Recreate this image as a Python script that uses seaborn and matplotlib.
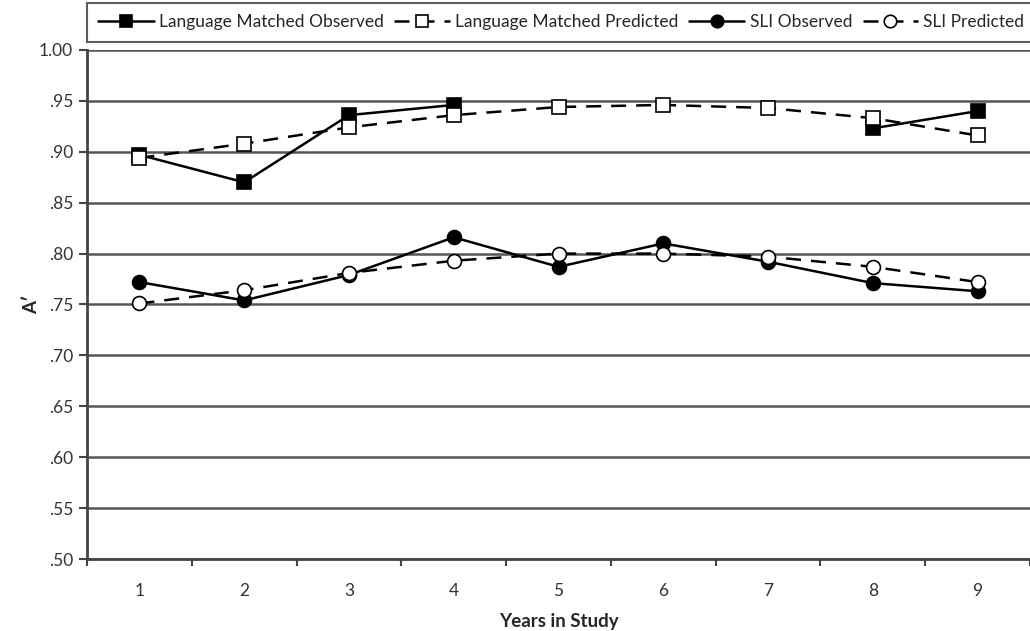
import pandas as pd
import numpy as np
import matplotlib
matplotlib.use("Agg")
import matplotlib.pyplot as plt
from matplotlib.lines import Line2D
import seaborn as sns

years = [1, 2, 3, 4, 5, 6, 7, 8, 9]
lm_observed = [0.897, 0.870, 0.936, 0.946, np.nan, np.nan, np.nan, 0.923, 0.940]
lm_predicted = [0.894, 0.908, 0.924, 0.936, 0.944, 0.946, 0.943, 0.933, 0.916]
sli_observed = [0.772, 0.754, 0.779, 0.816, 0.787, 0.810, 0.792, 0.771, 0.763]
sli_predicted = [0.751, 0.764, 0.781, 0.793, 0.800, 0.800, 0.797, 0.787, 0.772]
y_ticks = [0.50, 0.55, 0.60, 0.65, 0.70, 0.75, 0.80, 0.85, 0.90, 0.95, 1.00]
y_tick_labels = [".50", ".55", ".60", ".65", ".70", ".75", ".80", ".85", ".90", ".95", "1.00"]

sns.set_theme(style="white")
plt.rcParams['font.family'] = ['Lato', 'DejaVu Sans']

fig = plt.figure(figsize=(10.30, 6.31), dpi=100)
ax = fig.add_axes([0.0845, 0.1141, 0.9155, 0.8067])

series = [
    ("Language Matched Observed", lm_observed, "-", "s", "black"),
    ("Language Matched Predicted", lm_predicted, (0, (6, 4)), "s", "white"),
    ("SLI Observed", sli_observed, "-", "o", "black"),
    ("SLI Predicted", sli_predicted, (0, (6, 4)), "o", "white"),
]

for name, vals, ls, mk, fc in series:
    df = pd.DataFrame({"Year": years, "A": vals})
    # split into runs so that gaps in the data break the line
    df["run"] = df["A"].isna().cumsum()
    df = df.dropna()
    sns.lineplot(data=df, x="Year", y="A", units="run", estimator=None, ax=ax,
                 color="black", linestyle=ls, linewidth=1.8, marker=mk, markersize=10,
                 markerfacecolor=fc, markeredgecolor="black", markeredgewidth=1.2,
                 zorder=3, legend=False)

ax.set_xlim(0.5, 9.5)
ax.set_ylim(0.50, 1.00)
ax.set_yticks(y_ticks)
ax.set_yticklabels(y_tick_labels, fontsize=12.5, color="#333333")
ax.set_xticks(years)
ax.set_xticklabels([str(y) for y in years], fontsize=12.5, color="#333333")
ax.tick_params(axis="x", length=0, pad=17)
ax.tick_params(axis="y", left=True, length=6, width=1.5, color="#444444", pad=4)

# ticks at category boundaries
ax.set_xticks(np.arange(0.5, 9.6, 1.0), minor=True)
ax.tick_params(axis="x", which="minor", bottom=True, length=5, width=1.5, color="#444444")

ax.grid(axis="y", color="#555555", linewidth=1.8)
ax.set_axisbelow(True)
for s in ["top", "right"]:
    ax.spines[s].set_visible(False)
for s in ["left", "bottom"]:
    ax.spines[s].set_color("#444444")
    ax.spines[s].set_linewidth(2)

ax.set_xlabel("Years in Study", fontsize=13.5, fontweight="bold", labelpad=10)
ax.set_ylabel("A\u2032", fontsize=13.5, fontweight="bold")
ax.yaxis.set_label_coords(-0.05, 0.5)

handles = [Line2D([], [], color="black", linestyle=ls, linewidth=1.8, marker=mk, markersize=9,
                  markerfacecolor=fc, markeredgecolor="black", markeredgewidth=1.2)
           for _, _, ls, mk, fc in series]
labels = [s[0] for s in series]
leg = fig.legend(handles, labels, loc="upper left", bbox_to_anchor=(0.0845, 0.995),
                 borderaxespad=0, ncol=4, frameon=True, fancybox=False, fontsize=12.5,
                 handlelength=3.2, handletextpad=0.3, columnspacing=0.6, borderpad=0.65)
leg.get_frame().set_edgecolor("#333333")
leg.get_frame().set_linewidth(1.5)

fig.savefig("out.png", dpi=100)
